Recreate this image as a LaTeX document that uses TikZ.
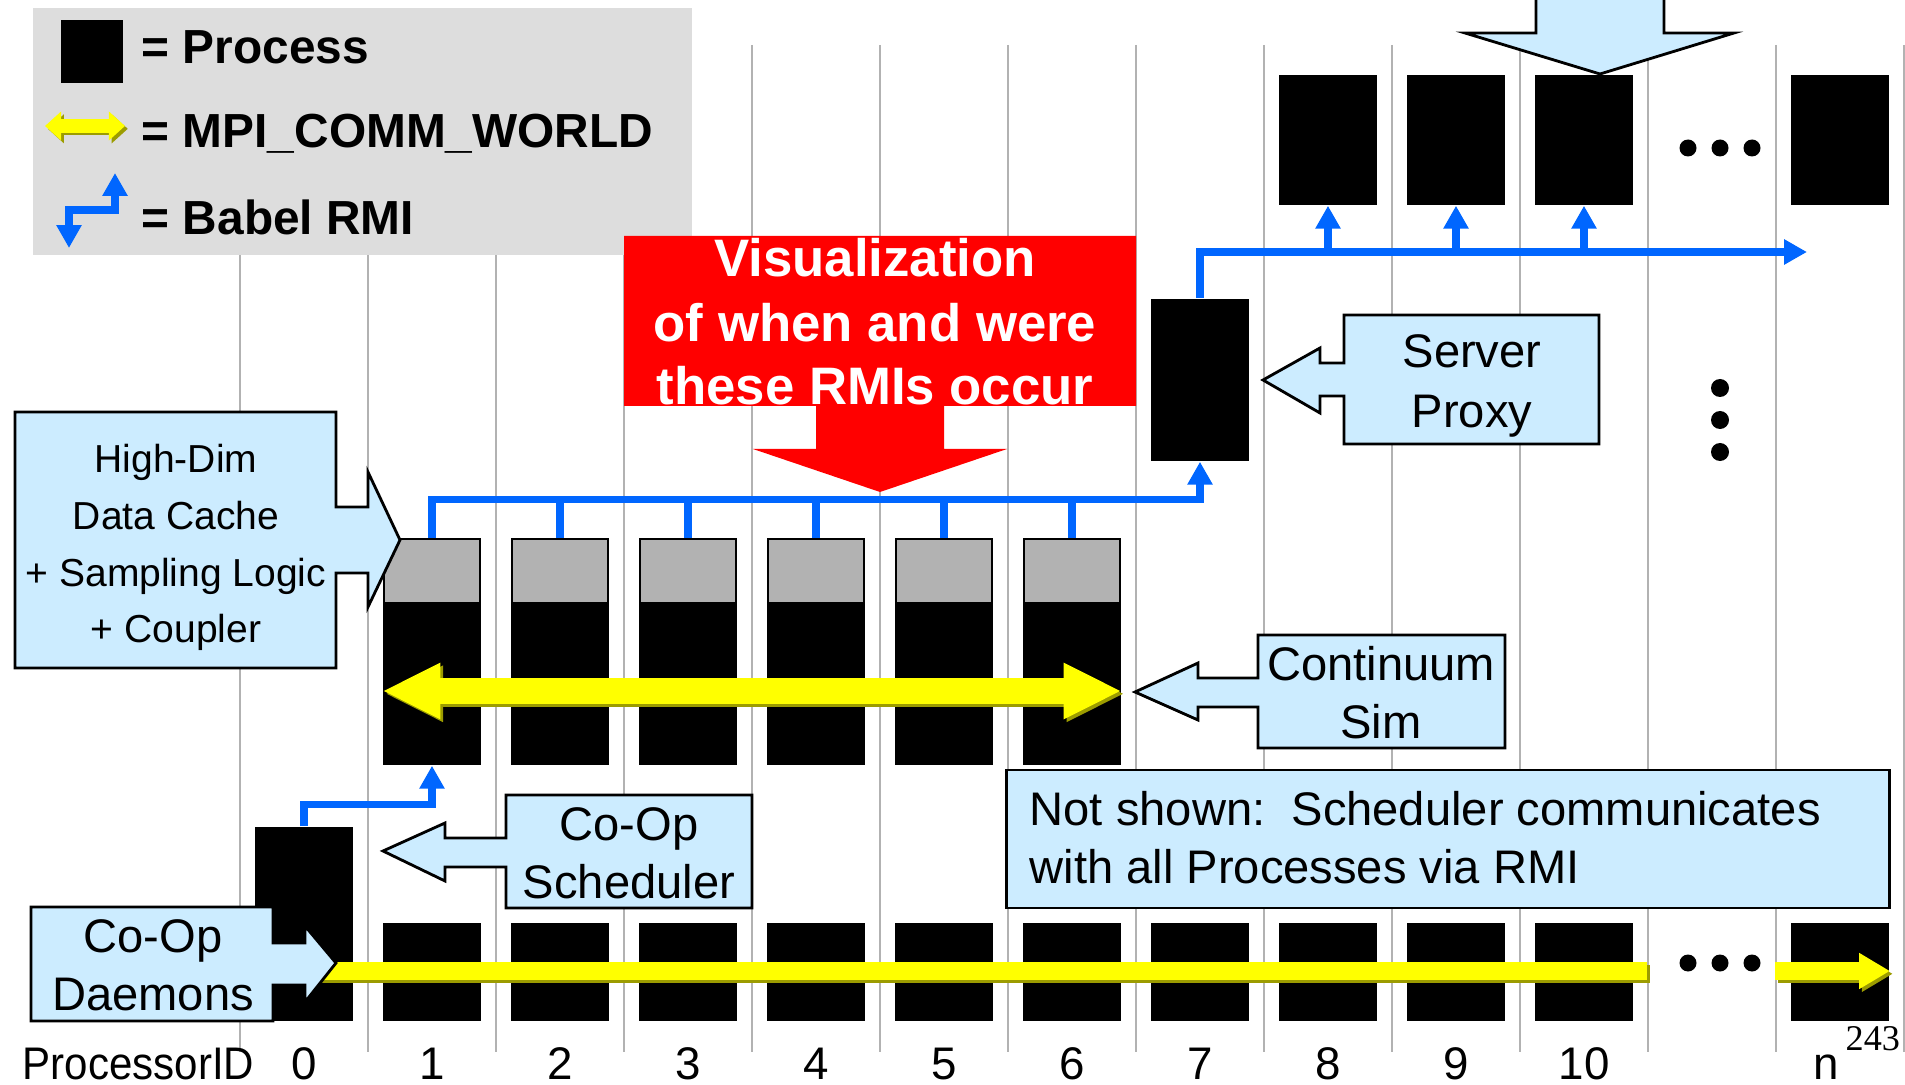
\documentclass[tikz,border=0pt]{standalone}
\usepackage{fontspec}
\usepackage{graphicx}
\setmainfont{Liberation Sans}
\newfontfamily\pagefont{Liberation Serif}
\usetikzlibrary{arrows.meta}
\definecolor{calloutblue}{HTML}{CCECFF}
\definecolor{rmiblue}{HTML}{0066FF}
\definecolor{mpiyellow}{HTML}{FFFF00}
\definecolor{mpishadow}{HTML}{9C9C00}
\definecolor{cachegray}{HTML}{B2B2B2}
\definecolor{legendgray}{HTML}{DDDDDD}
\definecolor{gridgray}{HTML}{B2B2B2}
\tikzset{
    proc/.style={rectangle, fill=black, inner sep=0pt, minimum width=0.98cm},
    cache/.style={rectangle, fill=cachegray, draw=black, line width=0.4pt, inner sep=0pt, minimum width=0.96cm, minimum height=0.64cm},
    callout/.style={fill=calloutblue, draw=black, line width=0.8pt, line join=miter},
    calltext/.style={anchor=base, inner sep=0pt, font=\fontsize{13.4}{16}\selectfont},
    smalltext/.style={anchor=base, inner sep=0pt, font=\fontsize{11.1}{14}\selectfont},
    legtext/.style={anchor=base west, inner sep=0pt, font=\bfseries\fontsize{13.6}{16}\selectfont},
    redtext/.style={anchor=base, inner sep=0pt, text=white, font=\bfseries\fontsize{15}{18}\selectfont},
    idtext/.style={anchor=base, inner sep=0pt, font=\fontsize{13}{16}\selectfont},
    grid/.style={draw=gridgray, line width=0.5pt},
    rmi/.style={draw=rmiblue, line width=2.1pt, >={Triangle[length=6.5pt,width=6.8pt]}},
    mpi/.style={draw=mpiyellow, line width=7.4pt, >={Triangle[length=16.5pt,width=14.8pt]}},
    mpibus/.style={draw=mpiyellow, line width=5.1pt, >={Triangle[length=8.8pt,width=9.7pt]}},
    mpileg/.style={draw=mpiyellow, line width=3.7pt, >={Triangle[length=4.6pt,width=8pt]}},
    shade/.style={draw=mpishadow, transform canvas={xshift=0.8pt, yshift=-0.8pt}}
}
\begin{document}
\begin{tikzpicture}[x=0.01cm, y=-0.01cm]
    \useasboundingbox (0,0) rectangle (1905,1085);
    \clip (0,0) rectangle (1905,1085);

    % Processor columns
    \foreach \x in {240,368,...,1904}
        \draw[grid] (\x,45) -- (\x,1052);

    % Legend
    \fill[legendgray] (33,8) rectangle (692,255);
    \node[proc, minimum width=0.62cm, minimum height=0.63cm] (lgproc) at (92,51.5) {};
    \coordinate (lgl) at (45,126);
    \coordinate (lgr) at (125,126);
    \draw[mpileg, shade, <->] (lgl) -- (lgr);
    \draw[mpileg, <->] (lgl) -- (lgr);
    \coordinate (lgup) at (115,173);
    \coordinate (lgdn) at (69,248);
    \draw[rmi, <->] (lgup) -- ++(0,37) -| (lgdn);
    \node[legtext] (lgt1) at (141,64) {= Process};
    \node[legtext] (lgt2) at (141,148) {= MPI\_COMM\_WORLD};
    \node[legtext] (lgt3) at (141,235) {= Babel RMI};

    % Arrow from above
    \filldraw[callout] (1536,-10) -- (1536,33) -- (1465,33) -- (1600,74) -- (1734,33) -- (1664,33) -- (1664,-10) -- cycle;

    % Red note
    \fill[red] (624,236) -- (1136,236) -- (1136,406) -- (944,406) -- (944,449) -- (1007,449) -- (880,492)
        -- (753,449) -- (816,449) -- (816,406) -- (624,406) -- cycle;
    \node[redtext] (vis1) at (875,277) {Visualization};
    \node[redtext] (vis2) at (875,341) {of when and were};
    \node[redtext] (vis3) at (875,405) {these RMIs occur};

    % Processes
    \foreach \i/\x in {8/1328, 9/1456, 10/1584, n/1840}
        \node[proc, minimum height=1.3cm] (t\i) at (\x,140) {};
    \node[proc, minimum height=1.62cm] (prox) at (1200,380) {};
    \foreach \i in {1,...,6} {
        \node[proc, minimum height=2.26cm] (c\i) at (304+128*\i,652) {};
        \node[cache, anchor=north] (g\i) at (c\i.north) {};
    }
    \node[proc, minimum height=1.94cm] (sch) at (304,924) {};
    \foreach \i in {1,...,10}
        \node[proc, minimum height=0.98cm] (b\i) at (304+128*\i,972) {};
    \node[proc, minimum height=0.98cm] (bn) at (1840,972) {};

    % Dots
    \foreach \x in {1688,1720,1752} {
        \fill (\x,148) circle (8.5);
        \fill (\x,963) circle (8.5);
    }
    \foreach \y in {388,420,452}
        \fill (1720,\y) circle (9);

    % Babel RMI
    \coordinate (rmiend) at (1807,252);
    \draw[rmi, ->] (prox.north) |- (rmiend);
    \foreach \i in {8,9,10}
        \draw[rmi, ->] (t\i.south |- rmiend) -- (t\i.south);
    \draw[rmi, ->] (c1.north) -- ++(0,-39) -| (prox.south);
    \foreach \i in {2,...,6}
        \draw[rmi] (c\i.north) -- ++(0,-39);
    \draw[rmi, ->] (sch.north) -- ++(0,-22) -| (c1.south);

    % MPI_COMM_WORLD
    \coordinate (mpiy) at (0,691);
    \draw[mpi, shade, <->] (c1.west |- mpiy) -- (c6.east |- mpiy);
    \draw[mpi, <->] (c1.west |- mpiy) -- (c6.east |- mpiy);
    \coordinate (bus0) at (310,971);
    \coordinate (bus1) at (1647,971);
    \coordinate (bus2) at (1775,971);
    \coordinate (bus3) at (1890,971);
    \draw[mpibus, shade] (bus0) -- (bus1);
    \draw[mpibus] (bus0) -- (bus1);
    \draw[mpibus, shade, ->] (bus2) -- (bus3);
    \draw[mpibus, ->] (bus2) -- (bus3);

    % Callouts
    \filldraw[callout] (15,412) -- (336,412) -- (336,507) -- (368,507) -- (368,472) -- (400,540) -- (368,607)
        -- (368,573) -- (336,573) -- (336,668) -- (15,668) -- cycle;
    \node[smalltext] (hd1) at (176,472) {High-Dim};
    \node[smalltext] (hd2) at (176,529) {Data Cache};
    \node[smalltext] (hd3) at (176,586) {+ Sampling Logic};
    \node[smalltext] (hd4) at (176,642) {+ Coupler};

    \filldraw[callout] (1599,315) -- (1344,315) -- (1344,363) -- (1320,363) -- (1320,348) -- (1263,380) -- (1320,413)
        -- (1320,396) -- (1344,396) -- (1344,444) -- (1599,444) -- cycle;
    \node[calltext] (sp1) at (1472,368) {Server};
    \node[calltext] (sp2) at (1472,427) {Proxy};

    \filldraw[callout] (1505,635) -- (1258,635) -- (1258,678) -- (1198,678) -- (1198,663) -- (1135,692) -- (1198,720)
        -- (1198,707) -- (1258,707) -- (1258,748) -- (1505,748) -- cycle;
    \node[calltext] (cs1) at (1381,680) {Continuum};
    \node[calltext] (cs2) at (1381,738) {Sim};

    \filldraw[callout] (752,795) -- (506,795) -- (506,838) -- (445,838) -- (445,823) -- (383,851) -- (445,881)
        -- (445,867) -- (506,867) -- (506,908) -- (752,908) -- cycle;
    \node[calltext] (cos1) at (629,840) {Co-Op};
    \node[calltext] (cos2) at (629,898) {Scheduler};

    \filldraw[callout] (31,907) -- (273,907) -- (273,943) -- (305,943) -- (305,926) -- (336,963) -- (305,1002)
        -- (305,985) -- (273,985) -- (273,1021) -- (31,1021) -- cycle;
    \node[calltext] (cod1) at (153,952) {Co-Op};
    \node[calltext] (cod2) at (153,1010) {Daemons};

    \node[callout, rectangle, minimum width=8.82cm, minimum height=1.38cm] (note) at (1448,839) {};
    \node[calltext, anchor=base west] (nt1) at (1029,825) {Not shown:\ \ Scheduler communicates};
    \node[calltext, anchor=base west] (nt2) at (1029,883) {with all Processes via RMI};

    % Processor IDs
    \node[idtext, anchor=base west] (pid) at (22,1079) {\scalebox{0.92}[1]{ProcessorID}};
    \foreach \i in {0,...,10}
        \node[idtext] (id\i) at (304+128*\i,1079) {\i};
    \node[idtext] (idn) at (1826,1079) {n};
    \node[anchor=base west, inner sep=0pt, font=\pagefont\fontsize{10.3}{12}\selectfont] (pgnum) at (1845,1050) {243};
\end{tikzpicture}
\end{document}
